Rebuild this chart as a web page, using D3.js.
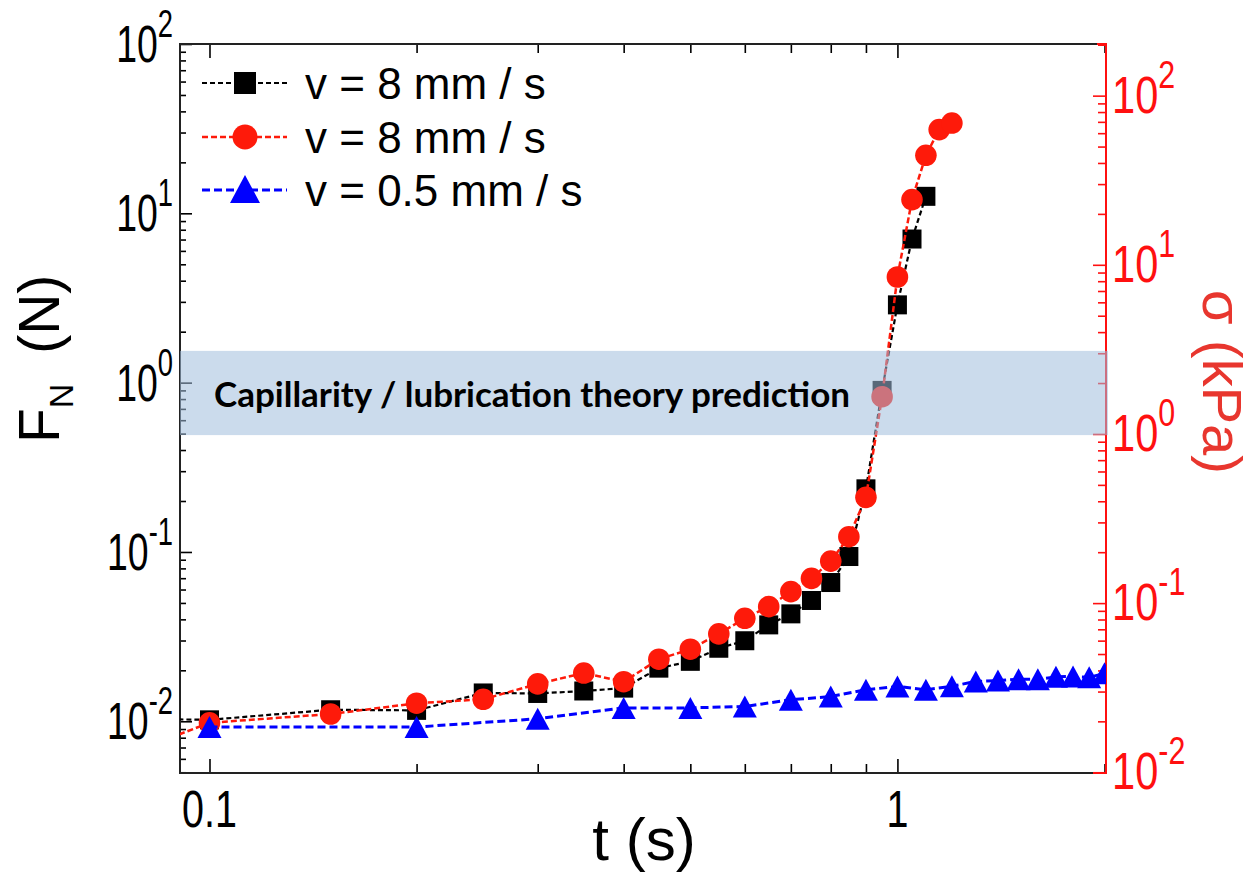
<!DOCTYPE html>
<html>
<head>
<meta charset="utf-8">
<script src="https://cdn.jsdelivr.net/npm/d3@7"></script>
<style>
  body { margin: 0; background: #fff; }
  text { font-family: "Liberation Sans", Arial, sans-serif; }
</style>
</head>
<body>
<div id="chart"></div>
<script>
// values
// black squares : F_N (N), v = 8 mm/s
const tSquare = [0.05, 0.1, 0.15, 0.2, 0.25, 0.3, 0.35, 0.4, 0.45, 0.5, 0.55, 0.6, 0.65, 0.7, 0.75, 0.8, 0.85, 0.9, 0.95, 1.0, 1.05, 1.1]
const fSquare = [0.0106, 0.0102, 0.0117, 0.0116, 0.0147, 0.0146, 0.0151, 0.0157, 0.0206, 0.0226, 0.027, 0.0299, 0.0371, 0.0431, 0.0517, 0.066, 0.094, 0.236, 0.9, 2.88, 7.05, 12.6]

// red circles : sigma (kPa), v = 8 mm/s
const tCircle = [0.05, 0.1, 0.15, 0.2, 0.25, 0.3, 0.35, 0.4, 0.45, 0.5, 0.55, 0.6, 0.65, 0.7, 0.75, 0.8, 0.85, 0.9, 0.95, 1.0, 1.05, 1.1, 1.15, 1.2]
const sCircle = [0.0067, 0.0196, 0.0221, 0.0256, 0.027, 0.0333, 0.0386, 0.0343, 0.0466, 0.0534, 0.0658, 0.0813, 0.0953, 0.117, 0.14, 0.177, 0.247, 0.422, 1.66, 8.47, 24.3, 44.4, 63, 68.9]

// blue triangles : F_N (N), v = 0.5 mm/s
const tTri = [0.1, 0.2, 0.3, 0.4, 0.5, 0.6, 0.7, 0.8, 0.9, 1.0, 1.1, 1.2, 1.3, 1.4, 1.5, 1.6, 1.7, 1.8, 1.9, 2.0]
const fTri = [0.00925, 0.00925, 0.01035, 0.012, 0.012, 0.01224, 0.0134, 0.014, 0.01535, 0.01606, 0.01535, 0.0161, 0.0172, 0.0174, 0.0177, 0.0177, 0.0183, 0.0184, 0.0182, 0.0192]

const legendLabels = ["v = 8 mm / s", "v = 8 mm / s", "v = 0.5 mm / s"]
const xTickLabels = [[0.1, "0.1"], [1, "1"]]
const yLeftLabels = [[100, "2"], [10, "1"], [1, "0"], [0.1, "-1"], [0.01, "-2"]]
const yRightLabels = [[100, "2"], [10, "1"], [1, "0"], [0.1, "-1"], [0.01, "-2"]]

// shaded band (in N) and its caption
const bandLow = 0.49, bandHigh = 1.54
const bandText = "Capillarity / lubrication theory prediction"

const width = 1255, height = 872
const L = 180, R = 1106, T = 44, B = 773
const RED = "#fe1a0a", AXRED = "#ff1010"

const x = d3.scaleLog().domain([0.0906, 2.01]).range([L, R])
const yF = d3.scaleLog().domain([0.00495, 100]).range([B, T])
const yS = d3.scaleLog().domain([0.0099, 202]).range([B, T])

const isMajor = d => Math.abs(Math.log10(d) - Math.round(Math.log10(d))) < 1e-6

const svg = d3.select("#chart").append("svg")
  .attr("width", width).attr("height", height)

svg.append("defs").append("clipPath").attr("id", "plotclip")
  .append("rect").attr("x", L).attr("y", T).attr("width", R - L).attr("height", B - T)

// ticks (inward), drawn with d3 axes
const xt = x.ticks()
function tickAxis(axis, g, attr, maj, min, color) {
  g.call(axis.tickSize(0).tickFormat(""))
  g.select(".domain").remove()
  g.selectAll(".tick line")
    .attr(attr, d => isMajor(d) ? maj : min)
    .attr("stroke", color).attr("stroke-width", 1.6)
}
tickAxis(d3.axisBottom(x).tickValues(xt), svg.append("g").attr("transform", `translate(0,${B})`), "y2", -14, -9, "#000")
tickAxis(d3.axisTop(x).tickValues(xt), svg.append("g").attr("transform", `translate(0,${T})`), "y2", 14, 9, "#000")
tickAxis(d3.axisLeft(yF).tickValues(yF.ticks()), svg.append("g").attr("transform", `translate(${L},0)`), "x2", 12, 6, "#000")
tickAxis(d3.axisRight(yS).tickValues(yS.ticks()), svg.append("g").attr("transform", `translate(${R},0)`), "x2", -13, -8, AXRED)

// frame
const frame = svg.append("g").attr("stroke-width", 2).attr("fill", "none")
frame.append("path").attr("d", `M${R - 9},${T}H${L}V${B}H${R - 13}`).attr("stroke", "#222")
frame.append("path").attr("d", `M${R - 9},${T}H${R}V${B}H${R - 13}`).attr("stroke", AXRED)

// series
const plot = svg.append("g").attr("clip-path", "url(#plotclip)")

function drawLine(ts, vs, scale, color, dash, w) {
  const pts = ts.map((t, i) => [t, vs[i]])
  plot.append("path")
    .attr("d", d3.line().x(d => x(d[0])).y(d => scale(d[1]))(pts))
    .attr("fill", "none").attr("stroke", color)
    .attr("stroke-width", w).attr("stroke-dasharray", dash)
  return pts
}
const sq = 19
const triPath = "M0,-11L12,11L-12,11Z"

const pSq = drawLine(tSquare, fSquare, yF, "#000", "5,3", 2.2)
plot.append("g").selectAll("rect").data(pSq).join("rect")
  .attr("x", d => x(d[0]) - sq / 2).attr("y", d => yF(d[1]) - sq / 2)
  .attr("width", sq).attr("height", sq).attr("fill", "#000")

const pCi = drawLine(tCircle, sCircle, yS, RED, "6,3", 2.5)
plot.append("g").selectAll("circle").data(pCi).join("circle")
  .attr("cx", d => x(d[0])).attr("cy", d => yS(d[1]))
  .attr("r", 10.8).attr("fill", RED)

const pTr = drawLine(tTri, fTri, yF, "#0000ff", "8,4", 3)
plot.append("g").selectAll("path").data(pTr).join("path")
  .attr("d", triPath)
  .attr("transform", d => `translate(${x(d[0])},${yF(d[1])})`)
  .attr("fill", "#0000ff")

// band
svg.append("rect")
  .attr("x", L).attr("width", R - L + 2)
  .attr("y", yF(bandHigh)).attr("height", yF(bandLow) - yF(bandHigh))
  .attr("fill", "rgb(161,190,221)").attr("fill-opacity", 0.55)
svg.append("text")
  .attr("x", 214).attr("y", 407)
  .attr("textLength", 636).attr("lengthAdjust", "spacingAndGlyphs")
  .style("font-family", "Lato, 'Open Sans', sans-serif")
  .style("font-weight", "bold").style("font-size", "35px")
  .attr("fill", "#000").text(bandText)

// tick labels (narrow face, as in the figure)
xTickLabels.forEach(([v, s]) => {
  svg.append("g").attr("transform", `translate(${x(v)},827) scale(0.76,1)`)
    .append("text").attr("text-anchor", "middle")
    .style("font-size", "52px").attr("fill", "#000").text(s)
})
yLeftLabels.forEach(([v, s]) => {
  const t = svg.append("g").attr("transform", `translate(173,${yF(v) + 18}) scale(0.72,1)`)
    .append("text").attr("text-anchor", "end").attr("fill", "#000")
  t.append("tspan").style("font-size", "52px").text("10")
  t.append("tspan").style("font-size", "38px").attr("dy", -25).text(s)
})
yRightLabels.forEach(([v, s]) => {
  const t = svg.append("g").attr("transform", `translate(1112,${yS(v) + 17}) scale(0.8,1)`)
    .append("text").attr("text-anchor", "start").attr("fill", AXRED)
  t.append("tspan").style("font-size", "52px").text("10")
  t.append("tspan").style("font-size", "38px").attr("dy", -25).text(s)
})

// axis titles
svg.append("text").attr("x", 644).attr("y", 860).attr("text-anchor", "middle")
  .style("font-size", "60px").attr("fill", "#000").text("t (s)")

const yt = svg.append("text").attr("transform", "translate(59,443) rotate(-90)")
  .attr("fill", "#000").style("font-size", "57px")
yt.append("tspan").text("F")
yt.append("tspan").style("font-size", "34px").attr("dy", 14).text("N")
yt.append("tspan").attr("dy", -14).attr("dx", 14).text(" (N)")

svg.append("text").attr("transform", "translate(1203,290) rotate(90)")
  .attr("fill", "#e8362e").style("font-size", "56px").text("σ (kPa)")

// legend
const legend = svg.append("g")
const legendRows = [
  { y: 83, color: "#000", dash: "5,3", w: 2.2, mark: "square" },
  { y: 137, color: RED, dash: "6,3", w: 2.5, mark: "circle" },
  { y: 190, color: "#0000ff", dash: "8,4", w: 3, mark: "tri" }
]
legendRows.forEach((r, i) => {
  legend.append("line").attr("x1", 202).attr("x2", 287).attr("y1", r.y).attr("y2", r.y)
    .attr("stroke", r.color).attr("stroke-width", r.w).attr("stroke-dasharray", r.dash)
  if (r.mark === "square")
    legend.append("rect").attr("x", 245 - 11).attr("y", r.y - 11).attr("width", 22).attr("height", 22).attr("fill", r.color)
  else if (r.mark === "circle")
    legend.append("circle").attr("cx", 245).attr("cy", r.y).attr("r", 12.5).attr("fill", r.color)
  else
    legend.append("path").attr("d", "M0,-14L15,14L-15,14Z").attr("transform", `translate(245,${r.y - 1})`).attr("fill", r.color)
  legend.append("text").attr("x", 305).attr("y", r.y + 16)
    .style("font-size", "44px").attr("fill", "#000").text(legendLabels[i])
})
</script>
</body>
</html>
